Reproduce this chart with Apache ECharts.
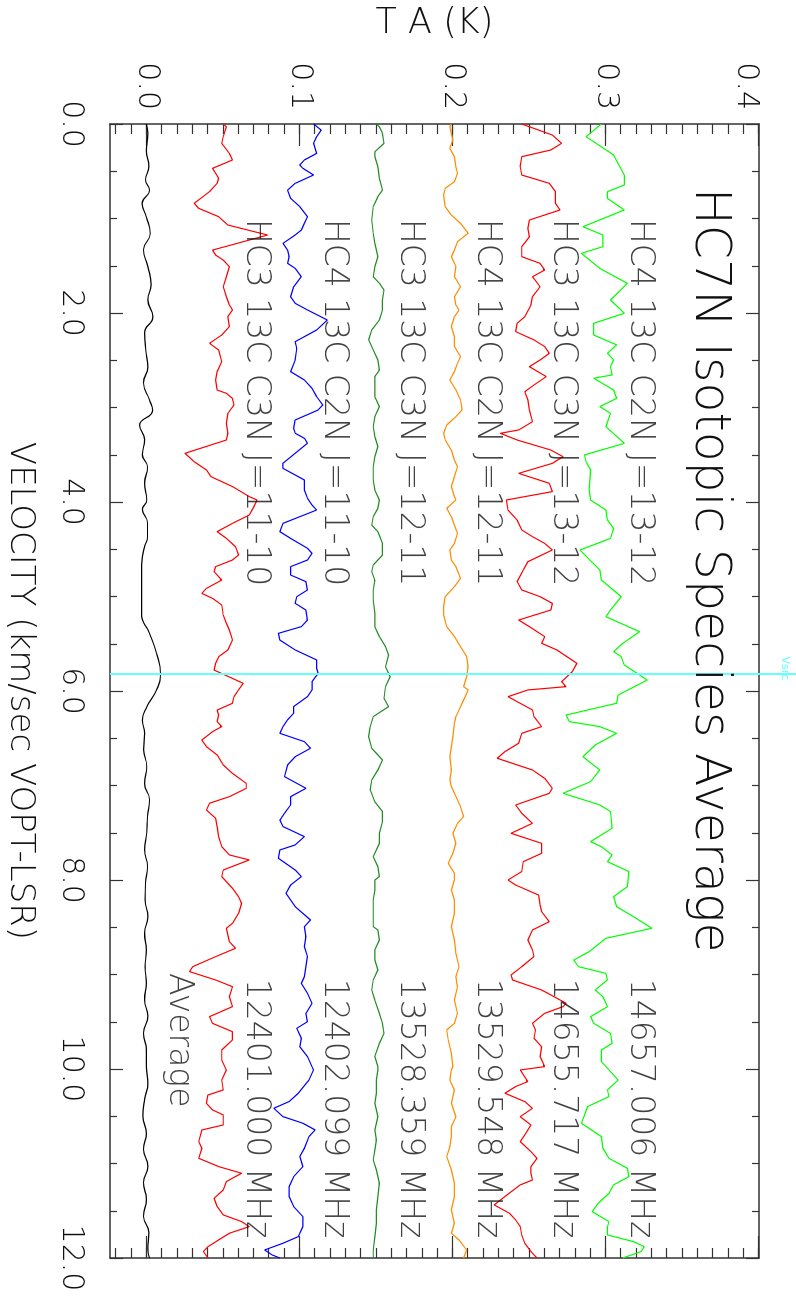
<!DOCTYPE html>
<html><head><meta charset="utf-8">
<script src="https://cdn.jsdelivr.net/npm/echarts@6/dist/echarts.min.js"></script>
<style>
html,body{margin:0;padding:0;background:#fff;overflow:hidden;width:796px;height:1296px;}
#chart{position:absolute;left:0;top:0;width:1296px;height:796px;transform-origin:0 0;transform:translate(796px,0) rotate(90deg);}
</style></head><body><div id="chart"></div>
<script>
// ---- data (velocity km/s, TA K as plotted with offsets) ----
const TITLE = 'HC7N Isotopic Species Average';
const VEL_TICKS_INTERVAL = 2;
const TA_TICKS = [0, 0.1, 0.2, 0.3, 0.4];
const VSRC = 5.82;

const HC4_J13 = [[0,0.297],[0.134,0.287],[0.328,0.305],[0.54,0.312],[0.646,0.312],[0.716,0.301],[0.787,0.301],[0.91,0.312],[1.087,0.285],[1.175,0.298],[1.298,0.298],[1.369,0.284],[1.528,0.296],[1.686,0.314],[1.863,0.303],
[2.003,0.312],[2.109,0.292],[2.233,0.292],[2.338,0.307],[2.427,0.301],[2.497,0.305],[2.568,0.303],[2.656,0.304],[2.691,0.292],[2.815,0.305],[2.903,0.307],[2.991,0.296],[3.062,0.303],[3.203,0.300],[3.379,0.312],[3.502,0.286],[3.573,0.287],[3.661,0.290],[3.873,0.289],
[3.979,0.290],[4.085,0.300],[4.191,0.301],[4.279,0.305],[4.385,0.303],[4.508,0.283],[4.72,0.296],[4.826,0.297],[5.002,0.310],[5.143,0.303],[5.214,0.300],[5.372,0.322],[5.496,0.311],[5.584,0.305],[5.637,0.310],[5.725,0.312],[5.884,0.327],
[6.042,0.308],[6.13,0.307],[6.254,0.274],[6.324,0.276],[6.377,0.296],[6.448,0.307],[6.571,0.293],[6.695,0.285],[6.836,0.296],[6.959,0.290],[7.083,0.272],[7.206,0.296],[7.276,0.303],[7.453,0.304],[7.594,0.290],[7.647,0.297],[7.735,0.304],[7.806,0.301],[7.911,0.315],
[8.071,0.314],[8.176,0.305],[8.282,0.307],[8.388,0.318],[8.511,0.330],[8.617,0.300],[8.758,0.289],[8.847,0.279],[8.917,0.282],[8.988,0.300],[9.058,0.301],[9.164,0.293],[9.235,0.298],[9.34,0.301],[9.446,0.290],[9.517,0.292],[9.623,0.303],[9.728,0.304],[9.799,0.297],[9.922,0.297],
[10.116,0.308],[10.222,0.301],[10.292,0.302],[10.398,0.288],[10.574,0.284],[10.715,0.297],[10.839,0.298],[10.945,0.302],[11.051,0.314],[11.139,0.315],[11.227,0.305],[11.315,0.302],[11.421,0.295],[11.509,0.291],[11.615,0.302],[11.668,0.301],[11.756,0.301],[11.827,0.318],[11.88,0.325],[11.932,0.323],[12,0.311]];

const HC3_J13 = [[0,0.245],[0.117,0.265],[0.205,0.271],[0.275,0.264],[0.346,0.245],[0.452,0.244],[0.54,0.245],[0.628,0.263],[0.716,0.267],[0.84,0.267],[0.91,0.270],[1.016,0.250],[1.104,0.249],[1.193,0.250],[1.298,0.245],[1.404,0.245],[1.475,0.257],[1.545,0.260],[1.616,0.252],[1.722,0.257],[1.827,0.252],[1.916,0.251],
[2.039,0.247],[2.109,0.242],[2.197,0.241],[2.285,0.253],[2.356,0.260],[2.427,0.263],[2.497,0.257],[2.568,0.250],[2.673,0.261],[2.762,0.253],[2.832,0.247],[2.92,0.249],[3.026,0.250],[3.15,0.252],[3.238,0.243],[3.273,0.231],[3.344,0.242],[3.45,0.264],[3.52,0.272],[3.591,0.265],[3.697,0.243],[3.802,0.263],[3.89,0.265],
[3.979,0.235],[4.085,0.236],[4.191,0.242],[4.296,0.245],[4.367,0.252],[4.438,0.260],[4.508,0.265],[4.632,0.249],[4.72,0.246],[4.843,0.242],[4.931,0.245],[5.002,0.257],[5.073,0.265],[5.143,0.264],[5.249,0.243],[5.319,0.250],[5.425,0.260],[5.496,0.258],[5.566,0.268],[5.707,0.281],[5.796,0.278],[5.901,0.271],[5.954,0.274],
[5.989,0.249],[6.06,0.236],[6.201,0.252],[6.271,0.253],[6.377,0.258],[6.448,0.245],[6.553,0.243],[6.642,0.234],[6.712,0.229],[6.836,0.252],[6.924,0.260],[7.03,0.265],[7.083,0.263],[7.206,0.241],[7.294,0.245],[7.4,0.252],[7.506,0.238],[7.612,0.258],[7.717,0.258],[7.806,0.246],[7.911,0.245],
[8.0,0.236],[8.053,0.241],[8.159,0.256],[8.265,0.257],[8.335,0.258],[8.441,0.263],[8.529,0.252],[8.635,0.249],[8.741,0.252],[8.811,0.253],[8.917,0.245],[9.005,0.238],[9.058,0.239],[9.164,0.258],[9.252,0.268],[9.305,0.274],[9.34,0.272],[9.411,0.260],[9.517,0.252],[9.587,0.254],[9.675,0.253],[9.764,0.258],[9.869,0.257],[9.975,0.260],
[10.01,0.244],[10.133,0.249],[10.186,0.241],[10.257,0.234],[10.345,0.247],[10.416,0.252],[10.504,0.244],[10.592,0.251],[10.698,0.247],[10.768,0.244],[10.874,0.251],[10.945,0.255],[11.033,0.251],[11.103,0.251],[11.174,0.252],[11.227,0.244],[11.35,0.234],[11.439,0.227],[11.527,0.237],[11.597,0.241],[11.668,0.244],[11.756,0.245],[11.844,0.247],[11.932,0.251],[12,0.255]];

const HC4_J12 = [[0,0.199],[0.029,0.198],[0.17,0.200],[0.258,0.198],[0.346,0.201],[0.452,0.202],[0.522,0.203],[0.611,0.201],[0.681,0.195],[0.752,0.194],[0.875,0.195],[0.963,0.199],[1.051,0.205],[1.157,0.210],[1.246,0.203],[1.334,0.201],[1.404,0.199],[1.51,0.202],[1.616,0.201],[1.722,0.205],[1.827,0.201],[1.916,0.202],
[1.968,0.204],[2.039,0.201],[2.144,0.199],[2.25,0.201],[2.356,0.201],[2.462,0.205],[2.532,0.203],[2.621,0.201],[2.709,0.198],[2.815,0.202],[2.92,0.205],[3.026,0.206],[3.097,0.202],[3.185,0.196],[3.273,0.194],[3.344,0.195],[3.45,0.199],[3.555,0.201],[3.626,0.203],[3.732,0.201],[3.837,0.199],[3.943,0.201],
[3.979,0.202],[4.067,0.196],[4.155,0.199],[4.244,0.201],[4.332,0.203],[4.438,0.201],[4.508,0.198],[4.614,0.199],[4.684,0.202],[4.808,0.205],[4.896,0.201],[5.002,0.195],[5.108,0.194],[5.196,0.194],[5.319,0.196],[5.425,0.201],[5.531,0.205],[5.637,0.209],[5.743,0.210],[5.849,0.209],[5.954,0.207],
[5.989,0.210],[6.095,0.207],[6.201,0.204],[6.271,0.202],[6.342,0.201],[6.483,0.200],[6.589,0.199],[6.695,0.198],[6.836,0.199],[6.941,0.198],[7.012,0.199],[7.118,0.202],[7.224,0.205],[7.329,0.207],[7.4,0.203],[7.506,0.200],[7.612,0.202],[7.717,0.200],[7.823,0.197],[7.929,0.201],
[8.0,0.201],[8.106,0.199],[8.212,0.201],[8.353,0.201],[8.494,0.199],[8.635,0.201],[8.776,0.202],[8.917,0.204],[9.023,0.202],[9.129,0.203],[9.27,0.201],[9.411,0.203],[9.517,0.201],[9.587,0.196],[9.693,0.197],[9.834,0.199],[9.975,0.200],
[10.01,0.199],[10.116,0.198],[10.222,0.201],[10.363,0.199],[10.504,0.202],[10.61,0.199],[10.715,0.199],[10.821,0.198],[10.927,0.196],[11.068,0.199],[11.209,0.201],[11.35,0.201],[11.491,0.199],[11.633,0.201],[11.738,0.199],[11.809,0.204],[11.915,0.209],[12,0.207]];

const HC3_J12 = [[0,0.150],[0.029,0.152],[0.099,0.154],[0.205,0.155],[0.293,0.149],[0.346,0.149],[0.452,0.151],[0.575,0.152],[0.699,0.154],[0.769,0.151],[0.875,0.148],[1.016,0.147],[1.157,0.148],[1.263,0.149],[1.404,0.151],[1.51,0.149],[1.616,0.148],[1.686,0.152],[1.757,0.155],[1.863,0.154],
[1.968,0.154],[2.074,0.152],[2.18,0.147],[2.285,0.145],[2.391,0.148],[2.497,0.151],[2.603,0.152],[2.673,0.149],[2.779,0.149],[2.885,0.149],[2.991,0.152],[3.097,0.149],[3.203,0.148],[3.308,0.149],[3.414,0.151],[3.52,0.149],[3.626,0.148],[3.767,0.148],[3.873,0.149],
[3.979,0.152],[4.067,0.151],[4.155,0.148],[4.244,0.147],[4.314,0.151],[4.438,0.154],[4.561,0.154],[4.667,0.148],[4.737,0.147],[4.826,0.149],[4.931,0.148],[5.037,0.148],[5.178,0.149],[5.319,0.149],[5.425,0.152],[5.531,0.156],[5.619,0.158],[5.743,0.156],[5.849,0.159],[5.954,0.156],
[6.077,0.155],[6.165,0.158],[6.271,0.148],[6.377,0.146],[6.483,0.145],[6.606,0.147],[6.73,0.154],[6.836,0.151],[6.941,0.147],[7.047,0.146],[7.171,0.149],[7.276,0.154],[7.382,0.154],[7.506,0.152],[7.612,0.152],[7.753,0.148],[7.859,0.151],[7.964,0.152],
[8.0,0.149],[8.106,0.149],[8.212,0.148],[8.353,0.148],[8.494,0.148],[8.529,0.151],[8.635,0.152],[8.741,0.149],[8.847,0.149],[8.952,0.151],[9.058,0.148],[9.164,0.147],[9.27,0.149],[9.411,0.152],[9.517,0.154],[9.623,0.155],[9.728,0.152],[9.869,0.149],[9.975,0.151],
[10.01,0.151],[10.116,0.150],[10.257,0.150],[10.363,0.149],[10.504,0.151],[10.645,0.149],[10.751,0.150],[10.857,0.149],[10.962,0.148],[11.068,0.150],[11.209,0.152],[11.35,0.151],[11.491,0.150],[11.633,0.150],[11.774,0.149],[11.915,0.148],[12,0.148]];

const HC4_J11 = [[0,0.109],[0.064,0.114],[0.134,0.111],[0.205,0.109],[0.311,0.111],[0.381,0.103],[0.434,0.100],[0.469,0.102],[0.54,0.109],[0.628,0.097],[0.699,0.092],[0.787,0.094],[0.875,0.100],[0.981,0.105],[1.051,0.103],[1.122,0.101],[1.175,0.097],[1.263,0.089],[1.334,0.092],[1.404,0.093],[1.475,0.092],[1.528,0.097],[1.616,0.101],[1.722,0.096],[1.827,0.094],[1.898,0.097],
[1.968,0.105],[2.074,0.118],[2.18,0.111],[2.303,0.097],[2.374,0.098],[2.497,0.097],[2.621,0.094],[2.709,0.103],[2.797,0.108],[2.885,0.111],[2.973,0.115],[3.026,0.112],[3.132,0.097],[3.22,0.096],[3.273,0.097],[3.326,0.103],[3.379,0.105],[3.485,0.097],[3.591,0.089],[3.644,0.089],[3.767,0.103],[3.873,0.103],[3.961,0.105],
[4.032,0.108],[4.085,0.111],[4.226,0.089],[4.314,0.087],[4.385,0.094],[4.49,0.105],[4.543,0.108],[4.614,0.105],[4.684,0.094],[4.773,0.094],[4.843,0.104],[4.931,0.105],[5.002,0.098],[5.073,0.097],[5.143,0.104],[5.249,0.105],[5.319,0.101],[5.39,0.086],[5.461,0.087],[5.566,0.097],[5.672,0.111],[5.76,0.111],[5.813,0.112],[5.901,0.108],
[5.989,0.108],[6.06,0.105],[6.165,0.096],[6.236,0.096],[6.306,0.092],[6.377,0.089],[6.448,0.087],[6.536,0.103],[6.606,0.107],[6.695,0.097],[6.783,0.092],[6.906,0.090],[7.03,0.104],[7.118,0.094],[7.206,0.094],[7.294,0.090],[7.365,0.087],[7.435,0.089],[7.541,0.103],[7.629,0.097],[7.682,0.087],[7.77,0.086],[7.894,0.097],[7.964,0.101],
[8.053,0.094],[8.141,0.091],[8.282,0.097],[8.423,0.107],[8.494,0.103],[8.6,0.104],[8.705,0.103],[8.811,0.105],[8.917,0.104],[9.023,0.103],[9.093,0.101],[9.199,0.105],[9.305,0.108],[9.411,0.104],[9.499,0.105],[9.57,0.098],[9.675,0.101],[9.764,0.100],[9.869,0.105],[9.975,0.108],
[10.01,0.109],[10.116,0.106],[10.257,0.099],[10.345,0.093],[10.416,0.083],[10.504,0.089],[10.574,0.102],[10.645,0.110],[10.715,0.106],[10.839,0.103],[10.927,0.100],[11.033,0.102],[11.139,0.096],[11.245,0.093],[11.35,0.093],[11.456,0.096],[11.562,0.102],[11.668,0.102],[11.774,0.099],[11.844,0.089],[11.915,0.077],[11.968,0.082],[12,0.087]];

const HC3_J11 = [[0,0.050],[0.029,0.052],[0.134,0.050],[0.205,0.049],[0.311,0.054],[0.381,0.056],[0.469,0.043],[0.575,0.047],[0.628,0.046],[0.716,0.041],[0.84,0.031],[0.893,0.034],[0.981,0.047],[1.069,0.053],[1.175,0.079],[1.334,0.043],[1.387,0.045],[1.44,0.050],[1.51,0.054],[1.616,0.052],[1.722,0.050],[1.827,0.052],[1.916,0.054],
[1.968,0.056],[2.039,0.053],[2.144,0.054],[2.233,0.049],[2.321,0.041],[2.391,0.047],[2.515,0.049],[2.621,0.046],[2.709,0.045],[2.815,0.046],[2.85,0.052],[2.903,0.056],[2.973,0.057],[3.062,0.053],[3.167,0.052],[3.273,0.053],[3.344,0.052],[3.485,0.025],[3.573,0.031],[3.661,0.039],[3.732,0.042],[3.837,0.056],[3.943,0.067],
[3.979,0.072],[4.05,0.070],[4.138,0.067],[4.226,0.056],[4.314,0.046],[4.385,0.052],[4.473,0.058],[4.561,0.060],[4.614,0.056],[4.684,0.045],[4.737,0.044],[4.826,0.049],[4.914,0.039],[4.967,0.036],[5.02,0.043],[5.09,0.049],[5.196,0.050],[5.284,0.052],[5.355,0.054],[5.46,0.056],[5.566,0.053],[5.637,0.047],[5.707,0.045],[5.778,0.044],[5.919,0.063],
[5.989,0.060],[6.06,0.057],[6.13,0.056],[6.201,0.046],[6.254,0.047],[6.324,0.046],[6.377,0.049],[6.43,0.043],[6.518,0.036],[6.589,0.039],[6.677,0.046],[6.783,0.050],[6.871,0.056],[6.977,0.065],[7.03,0.065],[7.118,0.054],[7.188,0.041],[7.259,0.039],[7.347,0.045],[7.435,0.046],[7.541,0.047],[7.647,0.049],[7.735,0.054],[7.788,0.067],[7.894,0.050],[7.964,0.049],
[8.088,0.056],[8.176,0.060],[8.247,0.062],[8.353,0.060],[8.459,0.056],[8.511,0.052],[8.582,0.053],[8.653,0.054],[8.723,0.058],[8.811,0.045],[8.917,0.030],[8.97,0.028],[9.058,0.045],[9.129,0.056],[9.235,0.054],[9.34,0.056],[9.446,0.041],[9.517,0.043],[9.605,0.056],[9.693,0.056],[9.799,0.049],[9.905,0.049],
[10.01,0.052],[10.116,0.049],[10.222,0.050],[10.275,0.040],[10.363,0.039],[10.433,0.043],[10.486,0.050],[10.592,0.050],[10.645,0.036],[10.768,0.034],[10.839,0.036],[10.945,0.034],[11.033,0.047],[11.103,0.062],[11.192,0.052],[11.28,0.050],[11.368,0.044],[11.456,0.046],[11.544,0.050],[11.615,0.062],[11.668,0.067],[11.738,0.054],[11.809,0.047],[11.88,0.040],[11.932,0.037],[12,0.040]];

const AVERAGE = [[0,-0.0003],[0.10,0.0007],[0.28,-0.0003],[0.45,0.0014],[0.59,-0.0008],[0.70,0.0018],[0.84,-0.0030],[0.98,-0.0003],[1.16,0.0023],[1.33,-0.0021],[1.51,0.0007],[1.70,0.0029],[1.86,0.0007],[2.04,0.0040],[2.21,-0.0014],[2.43,-0.0003],[2.57,0.0007],[2.74,-0.0021],[2.92,0.0018],
[3.03,0.0038],[3.19,-0.0047],[3.34,-0.0014],[3.50,-0.0028],[3.63,0.0005],[3.80,-0.0014],[3.98,0.0000],[4.08,-0.0028],[4.22,0.0005],[4.37,0.0005],[4.47,-0.0014],[4.58,-0.0028],[4.75,-0.0034],[4.90,-0.0034],[5.18,-0.0034],[5.39,0.0018],[5.60,0.0064],[5.82,0.0090],[5.99,0.0064],[6.17,0.0000],[6.31,-0.0028],[6.45,-0.0014],[6.62,-0.0020],[6.80,0.0000],[6.98,-0.0014],[7.15,0.0018],[7.33,0.0005],[7.50,0.0000],[7.68,-0.0014],[7.86,0.0005],[8.03,-0.0008],
[8.21,-0.0010],[8.39,0.0007],[8.56,-0.0014],[8.74,-0.0003],[8.92,-0.0010],[9.09,-0.0003],[9.27,-0.0014],[9.44,0.0007],[9.62,-0.0021],[9.80,-0.0003],[9.97,-0.0003],[10.15,0.0007],[10.32,-0.0014],[10.50,-0.0025],[10.68,-0.0003],[10.85,-0.0021],[11.03,0.0007],[11.20,-0.0021],[11.38,-0.0003],[11.56,-0.0021],[11.73,0.0014],[11.91,0.0007],[12,0.0018]];

const SPECIES = ['HC4 13C C2N J=13-12','HC3 13C C3N J=13-12','HC4 13C C2N J=12-11','HC3 13C C3N J=12-11','HC4 13C C2N J=11-10','HC3 13C C3N J=11-10','Average'];
const FREQS = ['14657.006 MHz','14655.717 MHz','13529.548 MHz','13528.359 MHz','12402.099 MHz','12401.000 MHz',''];
const LABEL_TA = [0.322, 0.272, 0.222, 0.172, 0.122, 0.071, 0.021];
const NAME_VEL = 1.0;
const FREQ_VEL = 9.04;
const AVG_VEL = 8.98;
const COLORS = ['#00ff00','#ff0000','#ff8c00','#228b22','#0000ff','#ff0000','#000000'];
const SPECTRA = [HC4_J13, HC3_J13, HC4_J12, HC3_J12, HC4_J11, HC3_J11, AVERAGE];

// ---- chart ----
const FONT = 'DejaVu Sans';
const TXT = '#111111';
const AX = '#333333';
const GRID = {left:124, right:38, top:37, bottom:110, outerBoundsMode:'none', containLabel:false};
const TA_MINOR = [];
for (let i = -2; i <= 40; i++) TA_MINOR.push(+(i/100).toFixed(2));

const chart = echarts.init(document.getElementById('chart'), null, {renderer:'canvas'});

const series = SPECTRA.map((d, i) => ({
  type:'line', name: SPECIES[i], data: d, showSymbol:false, symbol:'none',
  smooth: i === 6 ? 0.5 : false,
  lineStyle:{color: COLORS[i], width: 1.2}, itemStyle:{color: COLORS[i]},
  animation:false, silent:true, z: 3
}));

const labelData = [];
SPECIES.forEach((s, i) => {
  if (i < 6) labelData.push({name: s, value:[NAME_VEL, LABEL_TA[i]]});
  labelData.push({name: i < 6 ? FREQS[i] : s, value:[i < 6 ? FREQ_VEL : AVG_VEL, LABEL_TA[i]]});
});
series.push({
  type:'scatter', data: labelData, symbolSize:1, itemStyle:{color:'rgba(0,0,0,0)'},
  label:{show:true, position:'right', distance:0, formatter:'{b}', fontSize:33, color:TXT, fontFamily:FONT, fontWeight:200},
  silent:true, animation:false, z:5
});
series.push({
  type:'line', xAxisIndex:3, yAxisIndex:4, data:[], silent:true, animation:false,
  markLine:{symbol:['none','none'], silent:true, animation:false, label:{show:false},
    lineStyle:{color:'#66ffff', width:2, type:'solid'}, data:[{xAxis: VSRC}]}
});

const tickStyle = {color: AX, width: 1.2};
const option = {
  backgroundColor:'#fff',
  animation:false,
  textStyle:{fontFamily: FONT},
  title:{text: TITLE, left:183, top:58, textStyle:{fontSize:49, fontWeight:200, color:TXT, fontFamily:FONT}},
  grid:[
    Object.assign({}, GRID),
    Object.assign({}, GRID),
    Object.assign({}, GRID, {top:0})
  ],
  xAxis:[
    {type:'value', gridIndex:0, position:'bottom', min:0, max:12, interval:VEL_TICKS_INTERVAL,
     axisLine:{show:true, onZero:false, lineStyle:{color:AX, width:1.5}},
     axisTick:{show:true, inside:true, length:13, lineStyle:tickStyle},
     minorTick:{show:true, splitNumber:4, length:7, lineStyle:tickStyle},
     splitLine:{show:false},
     axisLabel:{formatter: v => v.toFixed(1), fontSize:30, color:TXT, margin:24, fontFamily:FONT, fontWeight:200},
     name:'VELOCITY (km/sec VOPT-LSR)', nameLocation:'middle', nameGap:73, nameMoveOverlap:false,
     nameTextStyle:{fontSize:34, color:TXT, fontFamily:FONT, fontWeight:200}},
    {type:'value', gridIndex:0, position:'top', min:0, max:12, interval:VEL_TICKS_INTERVAL,
     axisLine:{show:true, onZero:false, lineStyle:{color:AX, width:1.5}},
     axisTick:{show:true, inside:true, length:13, lineStyle:tickStyle},
     minorTick:{show:true, splitNumber:4, length:7, lineStyle:tickStyle},
     splitLine:{show:false}, axisLabel:{show:false}},
    {type:'value', gridIndex:1, min:0, max:12, show:false},
    {type:'value', gridIndex:2, min:0, max:12, show:false}
  ],
  yAxis:[
    {type:'value', gridIndex:0, position:'left', min:-0.024, max:0.4,
     axisLine:{show:true, onZero:false, lineStyle:{color:AX, width:1.5}},
     axisTick:{show:true, inside:true, length:22, customValues:TA_TICKS, lineStyle:tickStyle},
     splitLine:{show:false},
     axisLabel:{customValues:TA_TICKS, fontSize:30, color:TXT, margin:14, fontFamily:FONT, fontWeight:200,
       formatter: v => (v >= 0.4 ? '{e|' + v.toFixed(1) + '}' : v.toFixed(1)),
       rich:{e:{fontSize:30, color:TXT, fontFamily:FONT, fontWeight:200, padding:[26,0,0,0]}}},
     name:'T A (K)', nameLocation:'middle', nameGap:83, nameRotate:90, nameMoveOverlap:false,
     nameTextStyle:{fontSize:35, color:TXT, fontFamily:FONT, fontWeight:200}},
    {type:'value', gridIndex:0, position:'right', min:-0.024, max:0.4,
     axisLine:{show:true, onZero:false, lineStyle:{color:AX, width:1.5}},
     axisTick:{show:true, inside:true, length:22, customValues:TA_TICKS, lineStyle:tickStyle},
     splitLine:{show:false}, axisLabel:{show:false}},
    {type:'value', gridIndex:1, position:'left', min:-0.024, max:0.4,
     axisLine:{show:false}, splitLine:{show:false}, axisLabel:{show:false},
     axisTick:{show:true, inside:true, length:10, customValues:TA_MINOR, lineStyle:tickStyle}},
    {type:'value', gridIndex:1, position:'right', min:-0.024, max:0.4,
     axisLine:{show:false}, splitLine:{show:false}, axisLabel:{show:false},
     axisTick:{show:true, inside:true, length:10, customValues:TA_MINOR, lineStyle:tickStyle}},
    {type:'value', gridIndex:2, min:0, max:1, show:false}
  ],
  series: series
};
chart.setOption(option);

const vx = chart.convertToPixel({xAxisIndex:0}, VSRC);
chart.setOption({graphic:[{type:'text', x: vx + 6, y: 11, silent:true,
  style:{text:'Vsrc', fill:'#66ffff', fontSize:11, fontFamily:FONT, align:'right', verticalAlign:'middle'}}]});
</script>
</body></html>
